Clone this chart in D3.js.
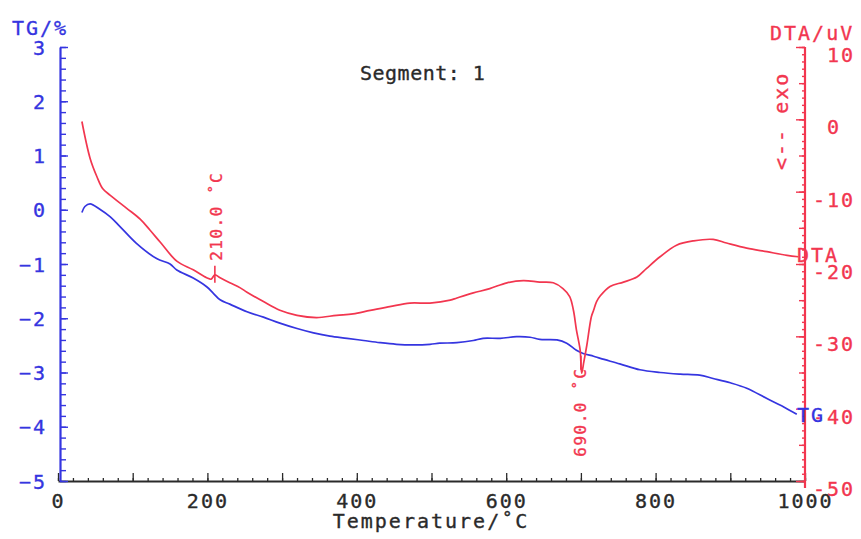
<!DOCTYPE html>
<html>
<head>
<meta charset="utf-8">
<script src="https://cdn.jsdelivr.net/npm/d3@7"></script>
<style>
  html, body { margin: 0; padding: 0; background: #fff; }
  svg { display: block; }
  text { font-family: "DejaVu Sans Mono", "Liberation Mono", monospace; }
</style>
</head>
<body>
<svg id="chart" width="861" height="539"></svg>
<script>
// ---- data ----
const dtaTemp = [32, 43, 52, 60, 70, 92, 110, 123, 137, 159, 181, 199, 205, 210, 217, 230, 244, 253, 275, 297, 320, 346, 373, 395, 418, 444, 471, 498, 525, 534, 556, 578, 601, 623, 645, 663, 676, 685, 690, 694, 699, 701, 704, 708, 714, 717, 721, 726, 739, 757, 775, 788, 806, 828, 851, 877, 895, 922, 949, 976, 991];
const dtaVal  = [-0.3, -5.4, -7.9, -9.6, -10.5, -12.3, -13.8, -15.3, -17.0, -19.6, -20.8, -21.9, -22.1, -21.5, -21.9, -22.6, -23.3, -23.9, -25.2, -26.4, -27.1, -27.4, -27.1, -26.9, -26.4, -25.9, -25.4, -25.4, -25.0, -24.7, -24.0, -23.4, -22.6, -22.3, -22.5, -22.6, -23.4, -24.5, -26.4, -29.1, -31.9, -35.1, -33.5, -31.2, -27.3, -26.4, -25.2, -24.4, -23.1, -22.5, -21.8, -20.6, -19.0, -17.4, -16.8, -16.6, -17.1, -17.8, -18.3, -18.8, -19.0];

const tgTemp = [32, 36, 43, 56, 70, 83, 105, 132, 150, 159, 181, 199, 208, 217, 230, 253, 275, 297, 320, 342, 364, 387, 409, 431, 453, 476, 498, 511, 534, 556, 569, 592, 614, 632, 645, 668, 681, 694, 703, 717, 726, 752, 779, 806, 833, 859, 877, 900, 922, 949, 971, 989];
const tgVal  = [-0.05, 0.06, 0.11, 0.01, -0.13, -0.31, -0.62, -0.90, -1.00, -1.11, -1.26, -1.42, -1.54, -1.66, -1.74, -1.88, -1.98, -2.09, -2.19, -2.27, -2.33, -2.37, -2.41, -2.45, -2.48, -2.49, -2.48, -2.46, -2.45, -2.41, -2.37, -2.37, -2.34, -2.35, -2.39, -2.40, -2.46, -2.59, -2.65, -2.70, -2.74, -2.84, -2.95, -3.00, -3.03, -3.05, -3.11, -3.19, -3.29, -3.48, -3.63, -3.77];

const tempTicks = [0, 200, 400, 600, 800, 1000];
const tgTicks   = [-5, -4, -3, -2, -1, 0, 1, 2, 3];
const dtaTicks  = [-50, -40, -30, -20, -10, 0, 10];
const peakTemps  = [210, 700];
const peakLabels = ["210.0 \u02DAC", "690.0 \u02DAC"];

// ---- setup ----
const RED = "#f2364f";
const BLUE = "#3535e0";
const BLACK = "#2a2a2a";
const FONT = 20;
const LS = "2px";

const svg = d3.select("#chart");
const x = d3.scaleLinear().domain([0, 1000]).range([58, 805]);
const yTG = d3.scaleLinear().domain([-5, 3]).range([481, 47]);
const yD = d3.scaleLinear().domain([-50, 10]).range([481, 47]);

function styleText(sel, color) {
  sel.style("font-family", '"DejaVu Sans Mono", monospace')
     .style("font-size", FONT + "px")
     .style("letter-spacing", LS)
     .attr("fill", color)
     .attr("stroke", color)
     .attr("stroke-width", 0.35);
}

// ---- bottom axis ----
const gx = svg.append("g").attr("transform", "translate(0,481)");
gx.call(d3.axisBottom(x).tickValues(d3.range(0, 1001, 20)).tickSize(-3).tickSizeOuter(0).tickFormat(""));
gx.call(g => g.selectAll("path.domain").remove());
const gx2 = svg.append("g").attr("transform", "translate(0,481)");
gx2.call(d3.axisBottom(x).tickValues(d3.range(0, 1001, 100)).tickSize(-8).tickSizeOuter(0)
  .tickFormat(d => tempTicks.includes(d) ? d : "").tickPadding(13));
[gx, gx2].forEach(g => {
  g.selectAll("line").attr("stroke", BLACK).attr("stroke-width", 1.3);
  g.selectAll("path").attr("stroke", BLACK).attr("stroke-width", 2);
  g.selectAll("text").call(styleText, BLACK).attr("text-anchor", "middle");
});

// ---- left axis (TG) ----
const gl = svg.append("g").attr("transform", "translate(60,0)");
gl.call(d3.axisLeft(yTG).tickValues(d3.range(0, 41).map(i => -5 + i * 0.2)).tickSize(-6).tickSizeOuter(0).tickFormat(""));
gl.selectAll("path.domain").remove();
const gl2 = svg.append("g").attr("transform", "translate(60,0)");
gl2.call(d3.axisLeft(yTG).tickValues(tgTicks).tickSize(-8).tickSizeOuter(0).tickPadding(13).tickFormat(d3.format("d")));
[gl, gl2].forEach(g => {
  g.selectAll("line").attr("stroke", BLUE).attr("stroke-width", 1.4);
  g.selectAll("path").attr("stroke", BLUE).attr("stroke-width", 2.2);
  g.selectAll("text").call(styleText, BLUE).attr("dy", "0.36em");
});

// ---- right axis (DTA) ----
const gr = svg.append("g").attr("transform", "translate(805,0)");
gr.call(d3.axisRight(yD).tickValues(d3.range(-50, 11, 1)).tickSize(-3).tickSizeOuter(0).tickFormat(""));
gr.selectAll("path.domain").remove();
const gr2 = svg.append("g").attr("transform", "translate(805,0)");
gr2.call(d3.axisRight(yD).tickValues(d3.range(-50, 11, 5)).tickSize(-6).tickSizeOuter(0).tickFormat(""));
gr2.selectAll("path.domain").remove();
const gr3 = svg.append("g").attr("transform", "translate(805,0)");
gr3.call(d3.axisRight(yD).tickValues(dtaTicks).tickSize(-9).tickSizeOuter(0).tickFormat(""));
gr3.select("path.domain").attr("d", "M0,47V488");
[gr, gr2, gr3].forEach(g => {
  g.selectAll("line").attr("stroke", RED).attr("stroke-width", 1.4);
  g.selectAll("path").attr("stroke", RED).attr("stroke-width", 2.2);
});
svg.append("g").selectAll("text").data(dtaTicks).join("text")
  .attr("x", d => d < 0 ? 813 : 827)
  .attr("y", d => yD(d) + 15)
  .text(d => String(d))
  .call(styleText, RED);

// ---- curves ----
const dtaData = dtaTemp.map((t, i) => [t, dtaVal[i]]);
const tgData = tgTemp.map((t, i) => [t, tgVal[i]]);

svg.append("path").datum(tgData)
  .attr("fill", "none").attr("stroke", BLUE).attr("stroke-width", 1.7)
  .attr("d", d3.line().x(d => x(d[0])).y(d => yTG(d[1])).curve(d3.curveCatmullRom));
svg.append("path").datum(dtaData)
  .attr("fill", "none").attr("stroke", RED).attr("stroke-width", 1.7)
  .attr("d", d3.line().x(d => x(d[0])).y(d => yD(d[1])).curve(d3.curveCatmullRom));

// ---- peak markers ----
const dtaAt = t => {
  const i = d3.bisector(d => d[0]).left(dtaData, t);
  const a = dtaData[Math.max(0, i - 1)], b = dtaData[Math.min(dtaData.length - 1, i)];
  if (a[0] === b[0]) return a[1];
  return a[1] + (b[1] - a[1]) * (t - a[0]) / (b[0] - a[0]);
};
{
  const t = peakTemps[0], px = x(t), py = yD(dtaAt(t));
  svg.append("line").attr("x1", px).attr("x2", px).attr("y1", py - 9).attr("y2", py + 8)
    .attr("stroke", RED).attr("stroke-width", 1.6);
  svg.append("text").attr("transform", `translate(${px + 7},${py - 14}) rotate(-90)`)
    .attr("text-anchor", "start").text(peakLabels[0])
    .call(styleText, RED).style("font-size", "16px").style("letter-spacing", "1.5px");
}
{
  const t = peakTemps[1], px = x(t), py = yD(dtaAt(t));
  svg.append("line").attr("x1", px).attr("x2", px).attr("y1", py - 6).attr("y2", py + 8)
    .attr("stroke", RED).attr("stroke-width", 1.6);
  svg.append("text").attr("transform", `translate(${px + 5},${py + 6}) rotate(-90)`)
    .attr("text-anchor", "end").text(peakLabels[1])
    .call(styleText, RED).style("font-size", "16px").style("letter-spacing", "1.5px");
}

// ---- titles and labels ----
svg.append("text").attr("x", 12).attr("y", 35).text("TG/%").call(styleText, BLUE);
svg.append("text").attr("x", 770).attr("y", 40).text("DTA/uV").call(styleText, RED);
svg.append("text").attr("x", 360).attr("y", 80).text("Segment: 1").call(styleText, BLACK).style("letter-spacing", "0.5px");
svg.append("text").attr("x", 431).attr("y", 528).attr("text-anchor", "middle")
  .text("Temperature/\u02DAC").call(styleText, BLACK);
svg.append("text").attr("transform", "translate(788,170) rotate(-90)")
  .text("<-- exo").call(styleText, RED);
svg.append("text").attr("x", 797).attr("y", 262).text("DTA").call(styleText, RED);
svg.append("text").attr("x", 797).attr("y", 422).text("TG").call(styleText, BLUE);
</script>
</body>
</html>
